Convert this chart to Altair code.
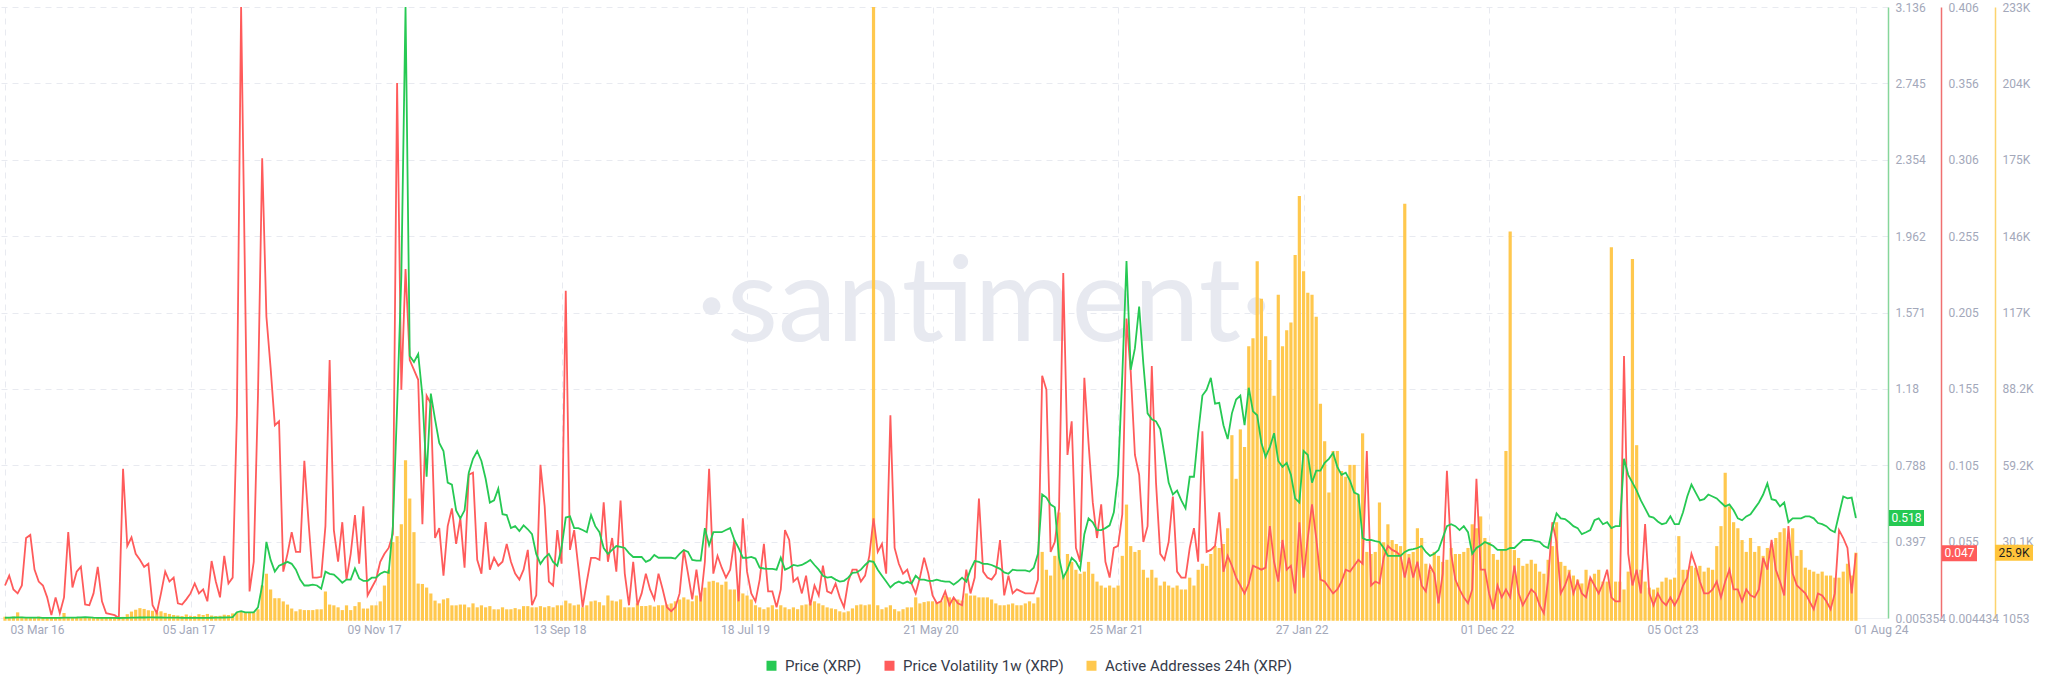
import altair as alt
import pandas as pd
import numpy as np

START = "2016-03-03"

# Price (XRP), weekly from 03 Mar 2016
price = [
    0.0066, 0.0072, 0.0078, 0.0085, 0.0083, 0.0077, 0.0073, 0.0070, 0.0068, 0.0065,
    0.0064, 0.0063, 0.0062, 0.0065, 0.0068, 0.0072, 0.0075, 0.0080, 0.0090, 0.0092,
    0.0085, 0.0070, 0.0065, 0.0063, 0.0060, 0.0058, 0.0056, 0.005354, 0.0058, 0.0062,
    0.0070, 0.0075, 0.0078, 0.0080, 0.0083, 0.0082, 0.0080, 0.0078, 0.0075, 0.0072,
    0.0070, 0.0068, 0.0065, 0.0064, 0.0063, 0.0062, 0.0062, 0.0064, 0.0065, 0.0066,
    0.0069, 0.0072, 0.0078, 0.0085, 0.0095, 0.035, 0.040, 0.034, 0.034, 0.034,
    0.060, 0.172, 0.395, 0.303, 0.243, 0.273, 0.283, 0.293, 0.283, 0.253,
    0.202, 0.172, 0.172, 0.176, 0.172, 0.155, 0.243, 0.232, 0.228, 0.208,
    0.186, 0.202, 0.202, 0.259, 0.208, 0.196, 0.196, 0.212, 0.212, 0.232,
    0.243, 0.237, 0.476, 1.084, 1.753, 3.136, 1.348, 1.317, 1.358, 1.145,
    0.729, 1.155, 1.023, 0.902, 0.861, 0.699, 0.689, 0.557, 0.516, 0.557,
    0.750, 0.821, 0.861, 0.810, 0.719, 0.597, 0.608, 0.668, 0.537, 0.533,
    0.466, 0.476, 0.451, 0.480, 0.460, 0.435, 0.334, 0.283, 0.314, 0.334,
    0.293, 0.273, 0.364, 0.520, 0.526, 0.466, 0.466, 0.456, 0.445, 0.533,
    0.476, 0.445, 0.364, 0.334, 0.354, 0.374, 0.370, 0.364, 0.338, 0.318,
    0.318, 0.318, 0.293, 0.303, 0.328, 0.314, 0.314, 0.314, 0.314, 0.310,
    0.334, 0.354, 0.344, 0.303, 0.299, 0.299, 0.466, 0.378, 0.445, 0.445,
    0.445, 0.456, 0.466, 0.405, 0.364, 0.314, 0.314, 0.318, 0.310, 0.263,
    0.259, 0.257, 0.257, 0.253, 0.314, 0.253, 0.263, 0.277, 0.273, 0.277,
    0.289, 0.303, 0.277, 0.253, 0.222, 0.212, 0.216, 0.202, 0.192, 0.196,
    0.212, 0.237, 0.239, 0.253, 0.277, 0.297, 0.293, 0.253, 0.222, 0.192,
    0.162, 0.182, 0.192, 0.182, 0.192, 0.182, 0.222, 0.202, 0.202, 0.196,
    0.196, 0.202, 0.196, 0.192, 0.192, 0.176, 0.192, 0.212, 0.192, 0.253,
    0.297, 0.293, 0.283, 0.283, 0.277, 0.267, 0.257, 0.239, 0.232, 0.253,
    0.249, 0.249, 0.249, 0.243, 0.263, 0.334, 0.638, 0.622, 0.587, 0.573,
    0.314, 0.212, 0.253, 0.314, 0.293, 0.253, 0.435, 0.516, 0.496, 0.456,
    0.456, 0.466, 0.480, 0.547, 0.739, 1.246, 1.834, 1.277, 1.388, 1.601,
    1.307, 1.054, 1.023, 1.013, 0.973, 0.841, 0.699, 0.638, 0.658, 0.608,
    0.567, 0.729, 0.729, 0.952, 1.145, 1.175, 1.236, 1.104, 1.108, 0.993,
    0.922, 1.054, 1.125, 1.145, 0.993, 1.185, 1.064, 1.044, 0.902, 0.831,
    0.881, 0.952, 0.810, 0.780, 0.800, 0.739, 0.618, 0.597, 0.861, 0.841,
    0.699, 0.760, 0.760, 0.800, 0.821, 0.851, 0.780, 0.739, 0.750, 0.709,
    0.648, 0.638, 0.415, 0.405, 0.405, 0.399, 0.395, 0.364, 0.324, 0.324,
    0.324, 0.324, 0.344, 0.354, 0.358, 0.364, 0.374, 0.344, 0.324, 0.334,
    0.354, 0.415, 0.476, 0.486, 0.476, 0.456, 0.476, 0.445, 0.334, 0.364,
    0.378, 0.395, 0.385, 0.374, 0.354, 0.354, 0.354, 0.364, 0.364, 0.385,
    0.405, 0.405, 0.405, 0.399, 0.395, 0.374, 0.364, 0.466, 0.541, 0.516,
    0.512, 0.496, 0.476, 0.466, 0.435, 0.445, 0.456, 0.506, 0.516, 0.486,
    0.496, 0.466, 0.476, 0.476, 0.821, 0.739, 0.699, 0.658, 0.608, 0.567,
    0.526, 0.520, 0.500, 0.486, 0.492, 0.526, 0.486, 0.486, 0.547, 0.628,
    0.689, 0.648, 0.608, 0.614, 0.638, 0.628, 0.618, 0.597, 0.577, 0.587,
    0.557, 0.516, 0.506, 0.526, 0.537, 0.567, 0.597, 0.638, 0.695, 0.614,
    0.608, 0.577, 0.597, 0.496, 0.516, 0.516, 0.516, 0.526, 0.526, 0.516,
    0.492, 0.486, 0.476, 0.456, 0.445, 0.537, 0.628, 0.618, 0.622, 0.518,
]

# Price Volatility 1w (XRP)
volatility = [
    0.0258, 0.0323, 0.0232, 0.0206, 0.0258, 0.0570, 0.0590, 0.0362, 0.0284, 0.0258,
    0.0180, 0.0063, 0.0180, 0.0076, 0.0180, 0.0609, 0.0245, 0.0349, 0.0382, 0.0133,
    0.0128, 0.0206, 0.0380, 0.0154, 0.0076, 0.0070, 0.0063, 0.004434, 0.1025, 0.0518,
    0.0575, 0.0466, 0.0427, 0.0380, 0.0401, 0.0128, 0.0076, 0.0206, 0.0349, 0.0284,
    0.0310, 0.0141, 0.0133, 0.0167, 0.0206, 0.0271, 0.0206, 0.0232, 0.0154, 0.0419,
    0.0284, 0.0180, 0.0453, 0.0271, 0.0310, 0.1376, 0.406, 0.2117, 0.0219, 0.0414,
    0.1506, 0.3066, 0.2026, 0.1688, 0.1311, 0.1337, 0.0349, 0.0466, 0.0609, 0.0479,
    0.0479, 0.1077, 0.0674, 0.0310, 0.0310, 0.0315, 0.0648, 0.1740, 0.0622, 0.0414,
    0.0674, 0.0297, 0.0466, 0.0720, 0.0401, 0.0778, 0.0193, 0.0245, 0.0297, 0.0414,
    0.0466, 0.0505, 0.0596, 0.3561, 0.1545, 0.2338, 0.1740, 0.1675, 0.1610, 0.0661,
    0.1506, 0.1454, 0.0570, 0.0635, 0.0323, 0.0648, 0.0765, 0.0531, 0.0700, 0.0375,
    0.0986, 0.0999, 0.0427, 0.0336, 0.0674, 0.0362, 0.0440, 0.0388, 0.0414, 0.0531,
    0.0414, 0.0336, 0.0297, 0.0362, 0.0492, 0.0128, 0.0193, 0.1051, 0.0778, 0.0284,
    0.0258, 0.0622, 0.0401, 0.2195, 0.0492, 0.0622, 0.0375, 0.0115, 0.0284, 0.0440,
    0.0440, 0.0427, 0.0804, 0.0414, 0.0570, 0.0349, 0.0817, 0.0336, 0.0128, 0.0414,
    0.0128, 0.0206, 0.0336, 0.0232, 0.0167, 0.0336, 0.0232, 0.0115, 0.0089, 0.0115,
    0.0206, 0.0492, 0.0336, 0.0167, 0.0362, 0.0154, 0.0414, 0.1025, 0.0336, 0.0453,
    0.0375, 0.0310, 0.0362, 0.0557, 0.0154, 0.0700, 0.0349, 0.0206, 0.0154, 0.0297,
    0.0531, 0.0219, 0.0219, 0.0115, 0.0232, 0.0622, 0.0557, 0.0284, 0.0310, 0.0206,
    0.0323, 0.0128, 0.0258, 0.0193, 0.0388, 0.0219, 0.0206, 0.0271, 0.0180, 0.0115,
    0.0284, 0.0362, 0.0362, 0.0284, 0.0323, 0.0453, 0.0700, 0.0479, 0.0531, 0.0336,
    0.1376, 0.0505, 0.0401, 0.0336, 0.0362, 0.0271, 0.0206, 0.0310, 0.0440, 0.0336,
    0.0193, 0.0141, 0.0154, 0.0219, 0.0128, 0.0180, 0.0141, 0.0128, 0.0362, 0.0206,
    0.0310, 0.0830, 0.0349, 0.0310, 0.0297, 0.0336, 0.0557, 0.0193, 0.0323, 0.0206,
    0.0232, 0.0219, 0.0206, 0.0206, 0.0206, 0.0297, 0.1636, 0.1545, 0.0479, 0.0544,
    0.0765, 0.2312, 0.1116, 0.1337, 0.0505, 0.0414, 0.1623, 0.1194, 0.0804, 0.0570,
    0.0791, 0.0414, 0.0310, 0.0505, 0.0518, 0.0726, 0.2013, 0.1662, 0.1116, 0.0986,
    0.0544, 0.0648, 0.1701, 0.0934, 0.0466, 0.0427, 0.0544, 0.0843, 0.0349, 0.0310,
    0.0310, 0.0505, 0.0635, 0.0414, 0.1272, 0.0479, 0.0492, 0.0518, 0.0739, 0.0349,
    0.0453, 0.0388, 0.0310, 0.0258, 0.0206, 0.0271, 0.0388, 0.0375, 0.0362, 0.0375,
    0.0648, 0.0414, 0.0284, 0.0557, 0.0362, 0.0388, 0.0206, 0.0674, 0.0310, 0.0570,
    0.0791, 0.0570, 0.0297, 0.0284, 0.0245, 0.0206, 0.0232, 0.0284, 0.0362, 0.0349,
    0.0388, 0.0427, 0.0401, 0.1142, 0.0258, 0.0284, 0.0271, 0.0440, 0.0518, 0.0492,
    0.0479, 0.0453, 0.0310, 0.0440, 0.0310, 0.0414, 0.0258, 0.0219, 0.0388, 0.0336,
    0.0141, 0.0336, 0.1012, 0.0466, 0.0297, 0.0232, 0.0180, 0.0141, 0.0232, 0.0960,
    0.0362, 0.0362, 0.0206, 0.0102, 0.0258, 0.0180, 0.0232, 0.0180, 0.0388, 0.0206,
    0.0128, 0.0180, 0.0232, 0.0206, 0.0128, 0.0075, 0.0297, 0.0674, 0.0544, 0.0206,
    0.0258, 0.0336, 0.0206, 0.0284, 0.0206, 0.0180, 0.0310, 0.0258, 0.0206, 0.0271,
    0.0362, 0.0180, 0.0154, 0.0154, 0.1766, 0.0466, 0.0258, 0.0362, 0.0206, 0.0661,
    0.0206, 0.0128, 0.0206, 0.0154, 0.0128, 0.0180, 0.0128, 0.0180, 0.0258, 0.0310,
    0.0466, 0.0388, 0.0284, 0.0206, 0.0206, 0.0232, 0.0284, 0.0180, 0.0284, 0.0362,
    0.0232, 0.0232, 0.0154, 0.0232, 0.0193, 0.0180, 0.0232, 0.0440, 0.0362, 0.0557,
    0.0362, 0.0284, 0.0193, 0.0648, 0.0336, 0.0258, 0.0232, 0.0206, 0.0154, 0.0102,
    0.0206, 0.0193, 0.0154, 0.0102, 0.0206, 0.0622, 0.0570, 0.0505, 0.0206, 0.047,
]

# Active Addresses 24h (XRP)
active = [
    1500, 1400, 1600, 3200, 1500, 1300, 1200, 1400, 1600, 1300,
    1200, 1100, 1300, 1500, 3000, 1400, 1200, 1100, 1053, 1200,
    1300, 1100, 1200, 1300, 1200, 1100, 1100, 1200, 1500, 2500,
    3500, 4200, 4800, 4500, 4000, 3800, 3200, 3600, 3000, 2600,
    2200, 2000, 1800, 2400, 1900, 1800, 2500, 2200, 2600, 2000,
    1800, 1900, 2300, 2200, 2800, 3160, 3610, 3160, 3160, 3160,
    4360, 13400, 17900, 11900, 8580, 8580, 7370, 6170, 4660, 3610,
    4360, 4060, 4060, 4060, 4360, 4360, 11140, 6170, 5870, 5120,
    4060, 5870, 4060, 5570, 7070, 4660, 4660, 5870, 5870, 7370,
    13400, 19410, 29950, 32200, 36720, 61100, 46500, 33710, 14150, 14000,
    12640, 10380, 7670, 6620, 8120, 8580, 5870, 5870, 6170, 6170,
    5120, 6620, 5120, 5870, 5120, 5570, 4360, 4360, 5120, 4360,
    4360, 4810, 4360, 5570, 5570, 5120, 5120, 5570, 5120, 5570,
    5120, 5870, 5870, 7670, 6620, 5870, 6170, 5120, 5870, 7370,
    7670, 7070, 5870, 9630, 7670, 7370, 8120, 5120, 5120, 5120,
    6620, 5600, 5600, 5900, 5400, 5900, 5900, 6200, 6600, 7400,
    8100, 8900, 8100, 7400, 9600, 10400, 12600, 14900, 15200, 14600,
    13700, 14900, 11900, 11900, 11100, 10400, 9600, 8100, 5900, 5100,
    4400, 5100, 5900, 4400, 5900, 5100, 4400, 5100, 4400, 5900,
    6200, 6600, 7400, 6600, 5900, 5100, 4700, 4400, 3600, 3200,
    3600, 4700, 5900, 6200, 5900, 6200, 233490, 5900, 4400, 5100,
    5900, 4400, 3600, 4400, 5100, 5100, 8900, 6600, 7100, 7400,
    7400, 7100, 7400, 9600, 8900, 8100, 8100, 7700, 10400, 9600,
    9600, 8900, 8900, 8900, 8100, 6600, 5900, 5900, 6200, 6600,
    5900, 5900, 6600, 7400, 6600, 8900, 26200, 19400, 17200, 24700,
    41200, 17200, 25400, 22400, 19400, 17900, 18700, 22400, 17900, 14900,
    13400, 12600, 13400, 12600, 13400, 24700, 44200, 28400, 26200, 26900,
    19400, 16400, 19400, 16400, 13400, 14900, 13400, 12600, 13400, 11900,
    11900, 16400, 13400, 19400, 21700, 20900, 25400, 28400, 27700, 29200,
    35200, 70600, 54000, 72800, 66100, 104400, 107500, 136800, 122500, 108200,
    99200, 85600, 124000, 104400, 110500, 113500, 139100, 161600, 133000, 124800,
    124000, 115700, 82600, 68300, 48800, 64600, 64600, 57000, 54800, 59300,
    59300, 48000, 71300, 26200, 25400, 26200, 45000, 29900, 36700, 30700,
    29200, 28400, 158600, 25400, 26200, 35200, 31500, 21700, 19400, 26200,
    24700, 22400, 23200, 27700, 25400, 25400, 26200, 27700, 36700, 35200,
    39700, 31500, 29900, 25400, 23200, 26900, 64600, 148100, 26900, 23900,
    20900, 21700, 23200, 21700, 18700, 17900, 23200, 28400, 37500, 22400,
    20900, 19400, 17200, 15700, 14200, 19400, 15700, 17900, 19400, 14900,
    14900, 142100, 14900, 14900, 11900, 18700, 137600, 66800, 19400, 14900,
    12600, 11900, 12600, 14900, 16400, 15700, 16400, 32200, 19400, 19400,
    20900, 20200, 20900, 18700, 20200, 19400, 28400, 36000, 56300, 43500,
    37500, 35200, 30700, 26200, 31500, 26200, 28400, 24700, 27700, 29200,
    31500, 33700, 35200, 30700, 35200, 24700, 26900, 20200, 19400, 18700,
    17900, 18700, 17200, 17200, 16400, 16400, 18700, 21700, 17200, 25900,
]

SERIES = ["Price (XRP)", "Price Volatility 1w (XRP)", "Active Addresses 24h (XRP)"]
COLORS = ["#26c953", "#ff5b5b", "#ffc84e"]

# axis extents and tick labels as shown on the three right-hand axes
P_DOM = [0.005354, 3.136]
V_DOM = [0.004434, 0.406]
A_DOM = [1053, 233490]
P_LABELS = ["0.005354", "0.397", "0.788", "1.18", "1.571", "1.962", "2.354", "2.745", "3.136"]
V_LABELS = ["0.004434", "0.055", "0.105", "0.155", "0.205", "0.255", "0.306", "0.356", "0.406"]
A_LABELS = ["1053", "30.1K", "59.2K", "88.2K", "117K", "146K", "175K", "204K", "233K"]
BADGES = ["0.518", "0.047", "25.9K"]

X_TICKS = ["2016-03-03", "2017-01-05", "2017-11-09", "2018-09-13", "2019-07-18",
           "2020-05-21", "2021-03-25", "2022-01-27", "2022-12-01", "2023-10-05", "2024-08-01"]

W, H = 1888, 611
LABEL_COLOR = "#a3a8ba"
GRID_COLOR = "#e8eaf0"
FONT = "Roboto"


def frame(values, name):
    d = pd.date_range(START, periods=len(values), freq="7D").strftime("%Y-%m-%d")
    return pd.DataFrame({"date": d, "value": values, "series": name})


df_p = frame(price, SERIES[0])
df_v = frame(volatility, SERIES[1])
df_a = frame(active, SERIES[2])


def dt(s):
    y, m, d = (int(v) for v in s.split("-"))
    return alt.DateTime(year=y, month=m, date=d)


EDGE = "(datum.value < 1460000000000 || datum.value > 1710000000000)"
x_axis = alt.Axis(
    values=[dt(s) for s in X_TICKS], format="%d %b %y", title=None,
    labelColor=LABEL_COLOR, labelFont=FONT, labelFontSize=12, labelPadding=6,
    labelFlush=False, ticks=False, domain=True, domainColor="#eef0f4",
    grid=True, gridColor=GRID_COLOR, gridDash=[6, 5], gridWidth=1,
    labelAlign={"condition": {"test": EDGE, "value": "left"}, "value": "center"},
    labelOffset={"condition": {"test": "datum.value < 1460000000000", "value": 5}, "value": -2},
)
x_enc = alt.X("date:T", scale=alt.Scale(domain=[dt("2016-03-03"), dt("2024-09-15")]), axis=x_axis)


def y_enc(dom, labels, color, offset, grid):
    step = (dom[1] - dom[0]) / 8
    ticks = [dom[0] + i * step for i in range(9)]
    arr = "[" + ",".join("'%s'" % s for s in labels) + "]"
    ax = alt.Axis(
        orient="right", offset=offset, values=ticks, title=None,
        labelExpr="%s[round((datum.value - %r) / %r)]" % (arr, dom[0], step),
        domainColor=color, domainWidth=1.5, ticks=False,
        labelColor=LABEL_COLOR, labelFont=FONT, labelFontSize=12, labelPadding=7,
        labelOverlap=False, grid=grid, gridColor=GRID_COLOR, gridDash=[6, 5], gridWidth=1,
    )
    return alt.Y("value:Q", scale=alt.Scale(domain=dom, nice=False, zero=False), axis=ax)


def badge(df_last, y, color, text_color, x0, x1):
    rect = alt.Chart(df_last).mark_rect(color=color, yOffset=-8, y2Offset=8).encode(
        x=alt.value(x0), x2=alt.value(x1), y=y, y2=alt.Y2("value")
    )
    txt = alt.Chart(df_last).mark_text(
        color=text_color, font=FONT, fontSize=12, align="center", baseline="middle"
    ).encode(x=alt.value((x0 + x1) / 2), y=y, text="label:N")
    return rect + txt


yp = y_enc(P_DOM, P_LABELS, "#86d69a", 0, True)
yv = y_enc(V_DOM, V_LABELS, "#f07070", 53, False)
ya = y_enc(A_DOM, A_LABELS, "#fcd36e", 107, False)

watermark = alt.Chart(pd.DataFrame({"t": ["\u00b7santiment\u00b7"]})).mark_text(
    font="Lato", fontSize=118, color="#e7e9f0", align="center", baseline="alphabetic"
).encode(x=alt.value(984), y=alt.value(334), text="t:N")

bars = alt.Chart(df_a).mark_bar(width=3.2, opacity=1).encode(
    x=x_enc, y=ya, y2=alt.value(H),
    color=alt.Color("series:N", scale=alt.Scale(domain=SERIES, range=COLORS),
                    legend=alt.Legend(
                        orient="none", legendX=764, legendY=651, direction="horizontal",
                        title=None, symbolType="square", symbolSize=100, symbolStrokeWidth=0,
                        labelFontSize=15, labelFont=FONT, labelColor="#363b4a", labelLimit=0,
                        columnPadding=20, labelOffset=6, padding=0,
                    )),
)
a_last = pd.DataFrame({"value": [active[-1]], "label": [BADGES[2]]})
layer_a = alt.layer(bars, badge(a_last, ya, "#ffc43a", "#1d1d1d", 1995, 2033))

vol_line = alt.Chart(df_v).mark_line(color=COLORS[1], strokeWidth=1.8).encode(x=x_enc, y=yv)
v_last = pd.DataFrame({"value": [volatility[-1]], "label": [BADGES[1]]})
layer_v = alt.layer(vol_line, badge(v_last, yv, COLORS[1], "white", 1942, 1977))

price_line = alt.Chart(df_p).mark_line(color=COLORS[0], strokeWidth=1.8).encode(x=x_enc, y=yp)
p_last = pd.DataFrame({"value": [price[-1]], "label": [BADGES[0]]})
layer_p = alt.layer(price_line, badge(p_last, yp, COLORS[0], "white", 1889, 1924))

chart = alt.layer(watermark, layer_a, layer_v, layer_p).resolve_scale(
    y="independent"
).properties(
    width=W, height=H,
    padding={"left": 0, "top": 7, "right": 160, "bottom": 75},
    autosize=alt.AutoSizeParams(type="none"),
    background="white",
).configure_view(stroke=None)

chart.save("out.html", embed_options={"renderer": "svg", "actions": False})
